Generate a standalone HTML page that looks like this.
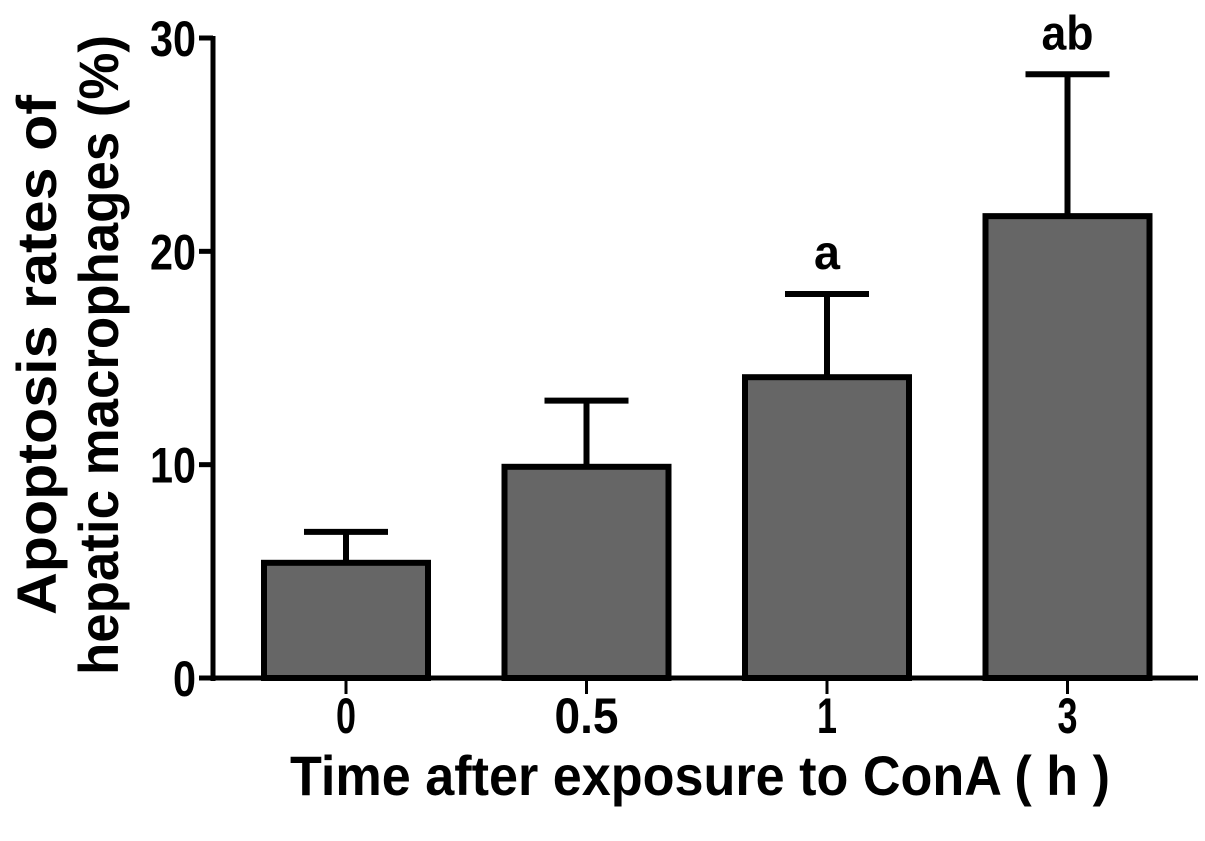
<!DOCTYPE html>
<html><head><meta charset="utf-8"><style>
html,body{margin:0;padding:0;background:#fff;}
svg{display:block;font-family:"Liberation Sans",Arial,sans-serif;font-weight:bold;}
</style></head><body>
<svg id="chart" width="1205" height="841" viewBox="0 0 1205 841">
<g id="plot"></g>
<text x="700" y="795" font-size="56" text-anchor="middle" textLength="820" lengthAdjust="spacingAndGlyphs">Time after exposure to ConA ( h )</text>
<g transform="rotate(-90)">
<text x="-355" y="56" font-size="56" text-anchor="middle" textLength="520" lengthAdjust="spacingAndGlyphs">Apoptosis rates of</text>
<text x="-355" y="118" font-size="56" text-anchor="middle" textLength="640" lengthAdjust="spacingAndGlyphs">hepatic macrophages (%)</text>
</g>
</svg>
<script>
const categories = ["0","0.5","1","3"];
const means = [5.4, 9.9, 14.1, 21.65];
const errors = [1.45, 3.1, 3.9, 6.65];
const sigLabels = ["", "", "a", "ab"];
const yTicks = [0, 10, 20, 30];

const NS = "http://www.w3.org/2000/svg";
const g = document.getElementById("plot");
const x0 = 213, y0 = 678, yTop = 38, yMax = 30;
const barW = 164, step = 240.5, firstCenter = 346;
function yS(v){ return y0 - (y0 - yTop) * v / yMax; }
function xS(i){ return firstCenter + step * i; }
function mk(tag, attrs){ const e = document.createElementNS(NS, tag); for (const k in attrs) e.setAttribute(k, attrs[k]); g.appendChild(e); return e; }

categories.forEach((c, i) => {
  const cx = xS(i), top = yS(means[i]), et = yS(means[i] + errors[i]);
  const eb = mk("line", {x1: cx, x2: cx, y1: top, y2: et, stroke: "#000", "stroke-width": 6});
  
  
  const cap = mk("line", {x1: cx - 42, x2: cx + 42, y1: et, y2: et, stroke: "#000", "stroke-width": 6});
  
  
  const r = mk("rect", {x: cx - barW / 2, y: top, width: barW, height: y0 - top, fill: "#666", stroke: "#000", "stroke-width": 6});
  
  
  const xt = mk("line", {x1: cx, x2: cx, y1: y0, y2: y0 + 16, stroke: "#000", "stroke-width": 3});
  
  
  const t = mk("text", {x: cx, y: 733, "font-size": 50, "text-anchor": "middle", textLength: 20 * c.length + (c.length > 1 ? 4 : 0), lengthAdjust: "spacingAndGlyphs"});
  t.textContent = c;
  
  
  if (sigLabels[i]) {
    const s = mk("text", {x: cx, y: et - 25, "font-size": 48, "text-anchor": "middle", textLength: 26 * sigLabels[i].length, lengthAdjust: "spacingAndGlyphs"});
    s.textContent = sigLabels[i];
    
    
  }
});

const ya = mk("line", {x1: x0, x2: x0, y1: yTop - 2, y2: y0 + 3, stroke: "#000", "stroke-width": 5});


const xa = mk("line", {x1: x0 - 3, x2: 1198, y1: y0, y2: y0, stroke: "#000", "stroke-width": 5});


yTicks.forEach(v => {
  const tk = mk("line", {x1: x0 - 14, x2: x0, y1: yS(v), y2: yS(v), stroke: "#000", "stroke-width": 5});
  
  
  const s = String(v);
  const t = mk("text", {x: 196, y: yS(v) + 18, "font-size": 50, "text-anchor": "end", textLength: 23 * s.length, lengthAdjust: "spacingAndGlyphs"});
  t.textContent = s;
  
  
});
</script>
</body></html>
